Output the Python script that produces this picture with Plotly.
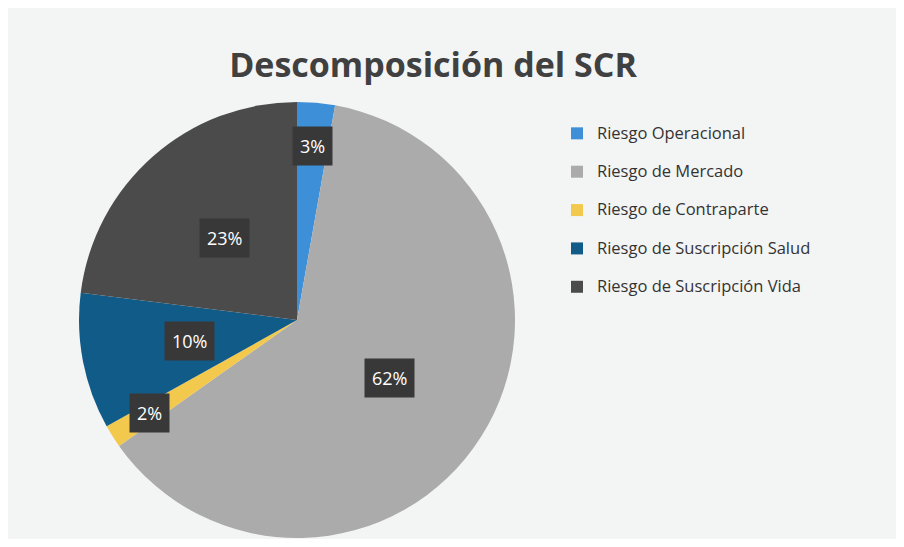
import numpy as np
import plotly.graph_objects as go

labels = ["Riesgo Operacional", "Riesgo de Mercado", "Riesgo de Contraparte",
          "Riesgo de Suscripción Salud", "Riesgo de Suscripción Vida"]
values = [2.8, 62.4, 1.7, 10.1, 23.0]
colors = ["#3d8fd8", "#ababab", "#f2c94c", "#105b88", "#4b4b4b"]

# page body has an 8px margin, so the figure is a bit smaller than the window
W, H = 888, 531
cx, cy, R = 289, 312, 218  # pie centre / radius in px (paper coords)

fig = go.Figure(go.Pie(
    labels=[f"<span style='font-size:16.5px'>{l}</span><br> " for l in labels],
    values=values,
    sort=False,
    direction="clockwise",
    rotation=0,
    marker=dict(colors=colors, line=dict(width=0)),
    textinfo="none",
    hoverinfo="percent",
    domain=dict(x=[(cx - R) / W, (cx + R) / W], y=[(H - cy - R) / H, (H - cy + R) / H]),
))

# Excel-style boxed data labels, placed from the slice angles
total = sum(values)
cum = np.cumsum([0] + values)
for i, v in enumerate(values):
    mid = (cum[i] + v / 2) / total * 2 * np.pi
    r = 0.8 * R if v / total < 0.05 else 0.5 * R
    px_ = cx + r * np.sin(mid)
    py_ = cy - r * np.cos(mid)
    fig.add_annotation(
        x=px_ / W, y=(H - py_) / H, xref="paper", yref="paper",
        xanchor="center", yanchor="middle",
        text=f"{round(v / total * 100):.0f}%", showarrow=False,
        font=dict(family="Open Sans", size=18, color="white"),
        bgcolor="#383838", borderpad=7,
    )

fig.update_layout(
    width=W, height=H,
    margin=dict(l=0, r=0, t=0, b=0),
    paper_bgcolor="#f3f4f4",
    title=dict(text="<b>Descomposición del SCR</b>", x=425 / W, xanchor="center",
               y=(H - 57) / H, yanchor="middle",
               font=dict(family="Open Sans", size=34, color="#404040")),
    legend=dict(x=549 / W, y=(H - 110) / H, xanchor="left", yanchor="top",
                valign="top", font=dict(family="Open Sans", size=13.6, color="#333333"),
                bgcolor="rgba(0,0,0,0)"),
)

fig.write_html("out.html")
